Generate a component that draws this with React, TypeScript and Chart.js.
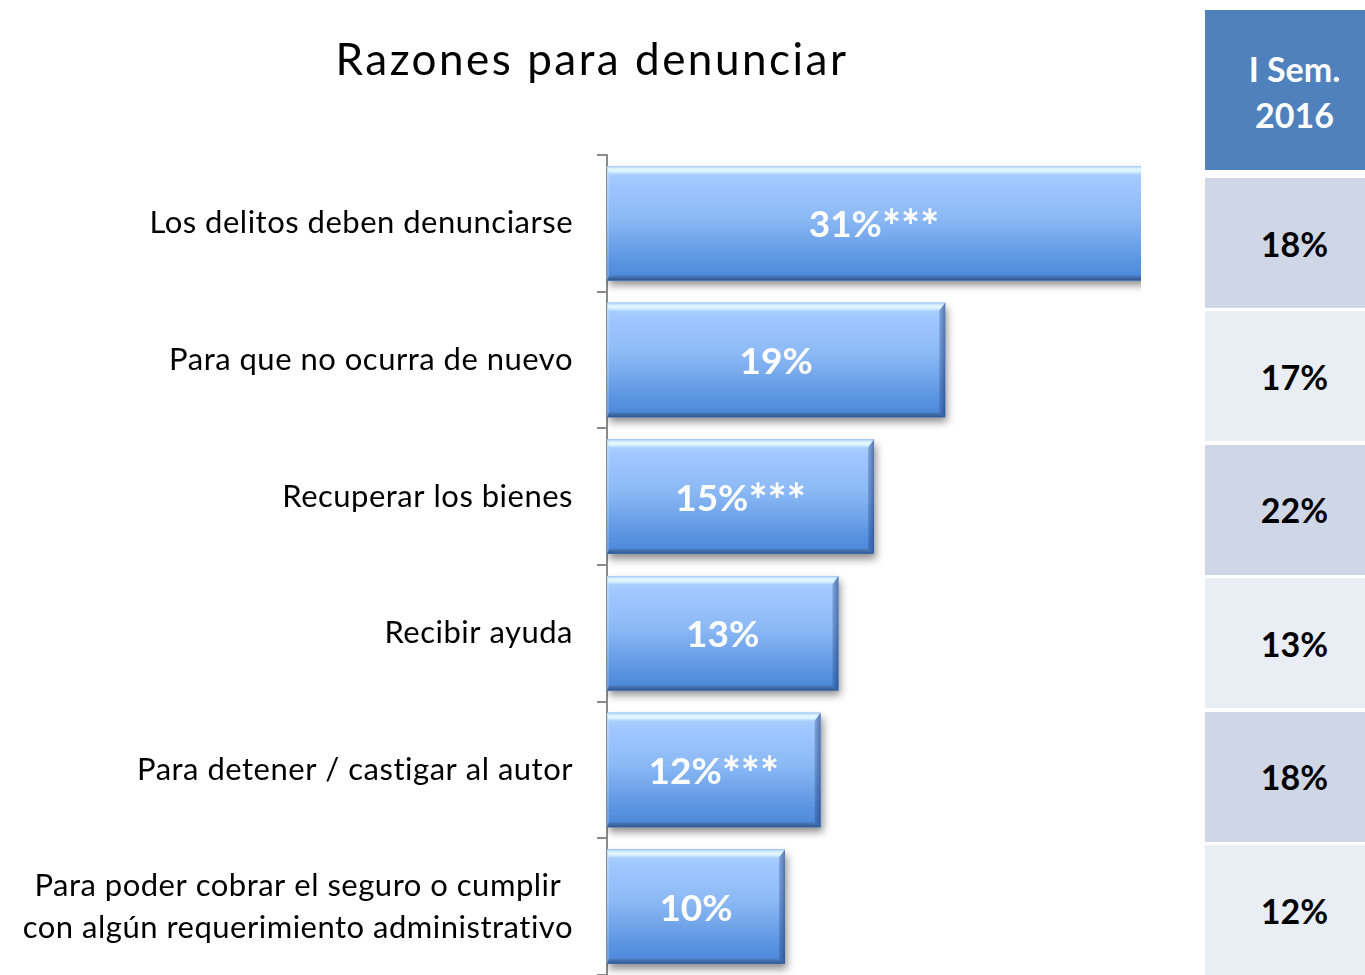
import React, { useEffect, useRef } from "react";
import { Chart, registerables } from "chart.js";
Chart.register(...registerables);

const title = "Razones para denunciar";
const categories: string[][] = [
  ["Los delitos deben denunciarse"],
  ["Para que no ocurra de nuevo"],
  ["Recuperar los bienes"],
  ["Recibir ayuda"],
  ["Para detener / castigar al autor"],
  ["Para poder cobrar el seguro o cumplir", "con algún requerimiento administrativo"],
];
const values = [31, 19, 15, 13, 12, 10];
const significance = ["***", "", "***", "", "***", ""];
const tableHeader = ["I Sem.", "2016"];
const tableValues = [18, 17, 22, 13, 18, 12];
const xMin = 0;
const xMax = 30;

const FONT = "Lato, 'Open Sans', sans-serif";

function poly(ctx: CanvasRenderingContext2D, pts: number[][], fill: any) {
  ctx.beginPath();
  ctx.moveTo(pts[0][0], pts[0][1]);
  for (let i = 1; i < pts.length; i++) ctx.lineTo(pts[i][0], pts[i][1]);
  ctx.closePath();
  ctx.fillStyle = fill;
  ctx.fill();
}

function barBox(el: any, area: any) {
  const p = el.getProps(["x", "y", "base", "height"], true);
  const L = Math.min(p.x, p.base);
  const Rraw = Math.max(p.x, p.base);
  const T = p.y - p.height / 2;
  const B = p.y + p.height / 2;
  return { L, Rraw, R: Math.min(Rraw, area.right), T, B, cy: p.y };
}

const decorPlugin = {
  id: "decor",
  beforeDatasetsDraw(chart: any) {
    const ctx: CanvasRenderingContext2D = chart.ctx;
    const area = chart.chartArea;
    const meta = chart.getDatasetMeta(0);
    ctx.save();
    ctx.beginPath();
    ctx.rect(area.left, area.top, area.right - area.left, area.bottom - area.top);
    ctx.clip();
    meta.data.forEach((el: any) => {
      const b = barBox(el, area);
      ctx.shadowColor = "rgba(0,0,0,0.45)";
      ctx.shadowBlur = 8;
      ctx.shadowOffsetY = 5;
      ctx.shadowOffsetX = 2;
      ctx.fillStyle = "#5a8fd8";
      ctx.fillRect(b.L, b.T, b.Rraw - b.L, b.B - b.T);
    });
    ctx.restore();
  },
  afterDatasetsDraw(chart: any) {
    const ctx: CanvasRenderingContext2D = chart.ctx;
    const area = chart.chartArea;
    const meta = chart.getDatasetMeta(0);
    ctx.save();
    ctx.beginPath();
    ctx.rect(area.left, area.top, area.right - area.left, area.bottom - area.top);
    ctx.clip();
    meta.data.forEach((el: any) => {
      const { L, Rraw: R, T, B } = barBox(el, area);
      const g = ctx.createLinearGradient(0, T, 0, B);
      g.addColorStop(0, "#b4d6ff");
      g.addColorStop(0.12, "#a2c9ff");
      g.addColorStop(0.45, "#8cb9f5");
      g.addColorStop(0.8, "#5e97e2");
      g.addColorStop(1, "#4a86d8");
      ctx.fillStyle = g;
      ctx.fillRect(L, T, R - L, B - T);
      const bt = 8, bb = 5, br = 6, bl = 2;
      const gt = ctx.createLinearGradient(0, T, 0, T + bt);
      gt.addColorStop(0, "#a8ccf4");
      gt.addColorStop(0.3, "#dcf3ff");
      gt.addColorStop(0.6, "#e2f7ff");
      gt.addColorStop(1, "#b2d5ff");
      poly(ctx, [[L, T], [R, T], [R - br, T + bt], [L + bl, T + bt]], gt);
      const gr = ctx.createLinearGradient(R - br, 0, R, 0);
      gr.addColorStop(0, "rgba(30,60,120,0.25)");
      gr.addColorStop(1, "rgba(30,60,120,0.6)");
      poly(ctx, [[R, T], [R, B], [R - br, B - bb], [R - br, T + bt]], gr);
      const gb = ctx.createLinearGradient(0, B - bb, 0, B);
      gb.addColorStop(0, "#4e7dbe");
      gb.addColorStop(1, "#2f5790");
      poly(ctx, [[L, B], [R, B], [R - br, B - bb], [L + bl, B - bb]], gb);
      poly(ctx, [[L, T], [L + bl, T + bt], [L + bl, B - bb], [L, B]], "rgba(255,255,255,0.18)");
    });
    ctx.restore();
    // value labels
    ctx.save();
    ctx.fillStyle = "#ffffff";
    ctx.textAlign = "left";
    ctx.textBaseline = "alphabetic";
    const numFont = `bold 37px ${FONT}`;
    const starFont = `bold 45px ${FONT}`;
    meta.data.forEach((el: any, i: number) => {
      const b = barBox(el, area);
      const cx = (b.L + b.R) / 2;
      const num = `${values[i]}%`;
      const stars = significance[i];
      ctx.font = numFont;
      const wn = ctx.measureText(num).width;
      ctx.font = starFont;
      const ws = stars ? ctx.measureText(stars).width : 0;
      const x0 = cx - (wn + ws) / 2;
      const base = b.cy + 14;
      ctx.font = numFont;
      ctx.fillText(num, x0, base);
      if (stars) {
        ctx.font = starFont;
        ctx.fillText(stars, x0 + wn, base + 6);
      }
    });
    ctx.restore();
  },
  afterDraw(chart: any) {
    const ctx: any = chart.ctx;
    const yScale = chart.scales.y;
    ctx.save();
    ctx.fillStyle = "#000000";
    ctx.font = `44px ${FONT}`;
    ctx.letterSpacing = "2.5px";
    ctx.textAlign = "center";
    ctx.textBaseline = "alphabetic";
    ctx.fillText(title, 592, 75);
    ctx.font = `31px ${FONT}`;
    ctx.letterSpacing = "0.5px";
    ctx.textBaseline = "middle";
    const rightEdge = yScale.right - 34;
    const lh = 42;
    (chart.data.labels as string[][]).forEach((lines, i) => {
      const cy = yScale.getPixelForValue(i);
      const widths = lines.map((l) => ctx.measureText(l).width);
      const w = Math.max(...widths);
      const cx = rightEdge - w / 2;
      ctx.textAlign = "center";
      lines.forEach((l, j) => {
        const y = cy + (j - (lines.length - 1) / 2) * lh;
        ctx.fillText(l, cx, y);
      });
    });
    ctx.restore();
  },
};

function BarChart() {
  const ref = useRef<HTMLCanvasElement | null>(null);
  useEffect(() => {
    if (!ref.current) return;
    const chart = new Chart(ref.current, {
      type: "bar",
      data: {
        labels: categories,
        datasets: [
          {
            data: values,
            backgroundColor: "#79aaec",
            borderWidth: 0,
            barPercentage: 0.836,
            categoryPercentage: 1,
          },
        ],
      },
      options: {
        indexAxis: "y",
        animation: false,
        responsive: false,
        devicePixelRatio: 1,
        layout: { padding: { top: 155, right: 59, bottom: -6, left: 0 } },
        plugins: { legend: { display: false }, tooltip: { enabled: false }, title: { display: false } },
        scales: {
          x: { display: false, min: xMin, max: xMax },
          y: {
            ticks: { display: false },
            grid: {
              display: true,
              drawOnChartArea: false,
              drawTicks: true,
              tickLength: 10,
              color: "#8a8a8a",
              lineWidth: 2,
            },
            border: { display: true, color: "#8a8a8a", width: 2 },
            afterFit: (scale: any) => {
              scale.width = 607;
            },
          },
        },
      },
      plugins: [decorPlugin],
    } as any);
    return () => chart.destroy();
  }, []);
  return <canvas ref={ref} width={1200} height={975} style={{ position: "absolute", left: 0, top: 0 }} />;
}

export default function App() {
  const rowTops = tableValues.map((_, i) => 178 + i * 133.4);
  return (
    <div
      style={{
        position: "absolute",
        left: 0,
        top: 0,
        width: 1365,
        height: 975,
        overflow: "hidden",
        background: "#ffffff",
        fontFamily: FONT,
      }}
    >
      <BarChart />
      <div
        style={{
          position: "absolute",
          left: 1205,
          top: 10,
          width: 179,
          height: 160,
          background: "#4f81bd",
          color: "#ffffff",
          fontWeight: 700,
          fontSize: 34,
          lineHeight: "46px",
          display: "flex",
          flexDirection: "column",
          alignItems: "center",
          justifyContent: "center",
          paddingTop: 4,
          boxSizing: "border-box",
        }}
      >
        {tableHeader.map((t, i) => (
          <div key={i}>{t}</div>
        ))}
      </div>
      {tableValues.map((v, i) => (
        <div
          key={i}
          style={{
            position: "absolute",
            left: 1205,
            top: rowTops[i],
            width: 179,
            height: 130,
            background: i % 2 === 0 ? "#cfd7e6" : "#e9edf4",
            color: "#000000",
            fontWeight: 700,
            fontSize: 34,
            display: "flex",
            alignItems: "center",
            justifyContent: "center",
          }}
        >
          {v}%
        </div>
      ))}
    </div>
  );
}
